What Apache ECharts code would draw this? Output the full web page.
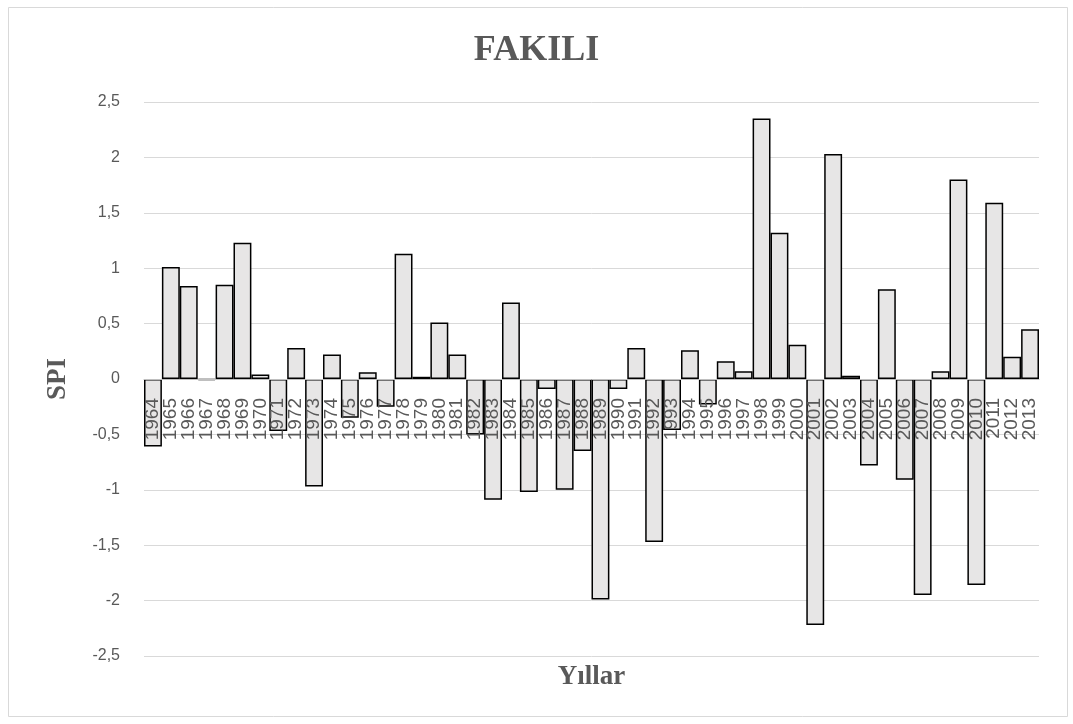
<!DOCTYPE html>
<html>
<head>
<meta charset="utf-8">
<script src="https://cdn.jsdelivr.net/npm/echarts@6/dist/echarts.min.js"></script>
<style>
html,body{margin:0;padding:0;background:#fff;}
#c{width:1073px;height:724px;}
</style>
</head>
<body>
<div id="c"></div>
<script>
const titleText = 'FAKILI';
const xName = 'Yıllar';
const yName = 'SPI';
const years = ['1964','1965','1966','1967','1968','1969','1970','1971','1972','1973','1974','1975','1976','1977','1978','1979','1980','1981','1982','1983','1984','1985','1986','1987','1988','1989','1990','1991','1992','1993','1994','1995','1996','1997','1998','1999','2000','2001','2002','2003','2004','2005','2006','2007','2008','2009','2010','2011','2012','2013'];
const spi = [-0.61,1.01,0.84,-0.01,0.85,1.23,0.04,-0.47,0.28,-0.97,0.22,-0.35,0.06,-0.25,1.13,0.02,0.51,0.22,-0.50,-1.09,0.69,-1.02,-0.09,-1.00,-0.65,-1.99,-0.09,0.28,-1.47,-0.46,0.26,-0.23,0.16,0.07,2.35,1.32,0.31,-2.22,2.03,0.03,-0.78,0.81,-0.91,-1.95,0.07,1.80,-1.86,1.59,0.20,0.45];
const yMin = -2.5, yMax = 2.5, yStep = 0.5;

// layout (pixels)
const gridTop = 102, gridBottom = 68, H = 724;
const plotH = H - gridTop - gridBottom;
const zeroOffset = plotH * (0 - yMin) / (yMax - yMin); // distance from bottom edge to zero line

const chart = echarts.init(document.getElementById('c'), null, {renderer:'canvas'});
chart.setOption({
  animation:false,
  backgroundColor:'#ffffff',
  graphic:[{
    type:'rect', shape:{x:8.5,y:7.5,width:1059,height:709},
    style:{fill:'none', stroke:'#d9d9d9', lineWidth:1}, silent:true
  }],
  title:{
    text:titleText, left:'center', top:28,
    textStyle:{fontFamily:'Liberation Serif', fontWeight:'bold', fontSize:36, color:'#595959'}
  },
  grid:{left:144, right:34, top:gridTop, bottom:gridBottom, outerBoundsMode:'none'},
  xAxis:{
    type:'category', data:years, position:'bottom', offset:-zeroOffset,
    name:xName, nameLocation:'middle', nameGap:zeroOffset + 8, nameMoveOverlap:false,
    nameTextStyle:{fontFamily:'Liberation Serif', fontWeight:'bold', fontSize:27, color:'#595959'},
    axisLine:{onZero:false, lineStyle:{color:'#bfbfbf', width:1}},
    axisTick:{show:false},
    axisLabel:{rotate:90, interval:0, margin:19, fontFamily:'Liberation Sans', fontSize:19, color:'#595959'},
    splitLine:{show:false},
    z:3
  },
  yAxis:{
    type:'value', min:yMin, max:yMax, interval:yStep,
    name:yName, nameLocation:'middle', nameGap:72, nameRotate:90,
    nameTextStyle:{fontFamily:'Liberation Serif', fontWeight:'bold', fontSize:27, color:'#595959'},
    axisLine:{show:false}, axisTick:{show:false},
    axisLabel:{margin:24, fontFamily:'Liberation Sans', fontSize:16, color:'#595959',
      formatter:v=>String(Math.round(v*10)/10).replace('.',',')},
    splitLine:{lineStyle:{color:'#d9d9d9', width:1}}
  },
  series:[{
    type:'bar', data:spi, barCategoryGap:'0%',
    itemStyle:{color:'#e7e6e6', borderColor:'#000000', borderWidth:1.5},
    z:2
  }]
});
</script>
</body>
</html>
